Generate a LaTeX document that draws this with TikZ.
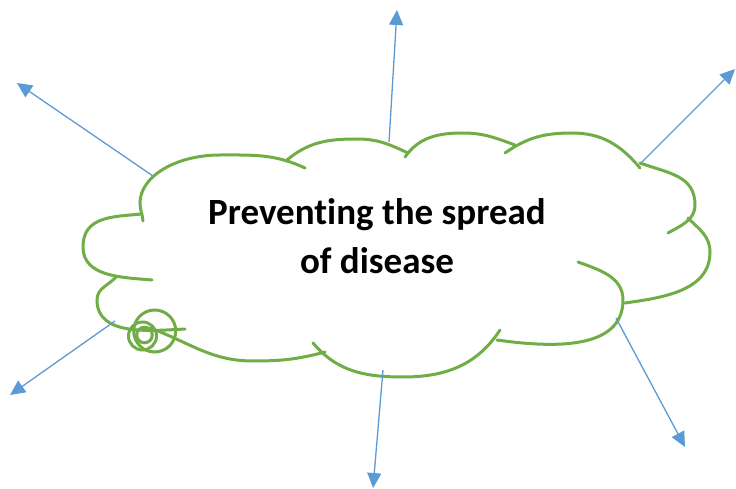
\documentclass[tikz,border=0pt]{standalone}
\usepackage{fontspec}
\setmainfont[Ligatures={NoCommon}]{Carlito}
\usetikzlibrary{arrows.meta}
\definecolor{cloudgreen}{HTML}{70AD47}
\definecolor{arrowblue}{HTML}{5B9BD5}
\tikzset{
  lobe/.style={draw=cloudgreen, line width=3pt, line cap=round},
  ray/.style={draw=arrowblue, line width=1.3pt, -{Triangle[length=15pt,width=14pt]}},
  label/.style={font=\fontsize{37}{49}\selectfont\bfseries, align=center, inner sep=0pt}
}
\begin{document}
\begin{tikzpicture}[x=1pt,y=-1pt]
\useasboundingbox (0,0) rectangle (736,489);
% cloud lobes
\draw[lobe] (143,221) to[out=95,in=270] (140,203) arc[start angle=180,end angle=270,x radius=80,y radius=48] to[out=0,in=155] (305,168);
\draw[lobe] (142,214) to[out=185,in=90,looseness=1.15] (83,247) to[out=270,in=175] (152,280);
\draw[lobe] (117,276) to[out=230,in=90] (97,300) to[out=270,in=183] (185,329);
\draw[lobe] (150,328) to[out=340,in=180] (253,361) to[out=0,in=195] (325,352);
\draw[lobe] (313,343) to[out=310,in=180] (403,377) to[out=0,in=237] (500,330);
\draw[lobe] (497,340) to[out=352,in=270] (623,300) to[out=90,in=340] (578,262);
\draw[lobe] (625,303) to[out=8,in=270] (710,252) to[out=90,in=315] (688,218);
\draw[lobe] (640,163) to[out=340,in=90,looseness=1.1] (695,205) to[out=270,in=30] (668,233);
\draw[lobe] (505,153) to[out=35,in=180] (572,133) to[out=0,in=130] (640,168);
\draw[lobe] (405,157) to[out=55,in=180] (463,133) to[out=0,in=160] (515,145);
\draw[lobe] (287,160) to[out=40,in=180] (357,139) to[out=0,in=155] (408,153);
% callout circles
\draw[lobe] (154.7,331) circle (21);
\draw[lobe] (142.5,336) circle (14);
\draw[lobe] (144.5,335) circle (7.8);
% text
\node[label, anchor=base] (txt) at (377,273) {Preventing the spread\\of disease};
% arrow end points
\coordinate (s1) at (153,176); \coordinate (e1) at (17,83);
\coordinate (s2) at (389,142); \coordinate (e2) at (397,10);
\coordinate (s3) at (641,163); \coordinate (e3) at (735,69);
\coordinate (s4) at (115,321); \coordinate (e4) at (10,395);
\coordinate (s5) at (383,370); \coordinate (e5) at (373,488);
\coordinate (s6) at (616,318); \coordinate (e6) at (685,447);
\draw[ray] (s1) -- (e1);
\draw[ray] (s2) -- (e2);
\draw[ray] (s3) -- (e3);
\draw[ray] (s4) -- (e4);
\draw[ray] (s5) -- (e5);
\draw[ray] (s6) -- (e6);
\end{tikzpicture}
\end{document}
